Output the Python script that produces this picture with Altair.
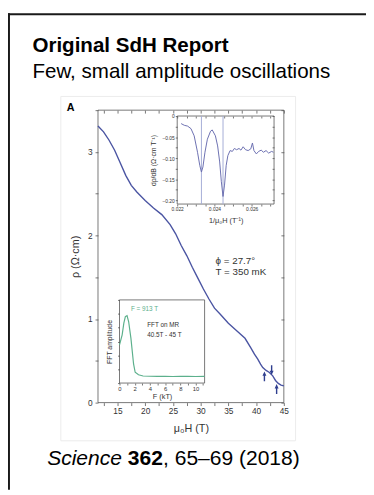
import altair as alt
import pandas as pd

# ---------------- data ----------------
# main panel: resistivity vs field
field_T = [11.5, 12.5, 13.5, 14.5, 15.5, 16.5, 17.5, 18.5, 20.0, 21.5, 23.0, 24.5,
           25.5, 26.5, 27.5, 28.5, 29.5, 30.5, 31.5, 32.5, 33.5, 35.0, 36.5, 38.0,
           39.0, 39.7, 40.3, 40.8, 41.2, 41.8, 42.4, 43.0, 43.5, 44.0, 44.5, 45.0]
rho = [3.31, 3.24, 3.14, 3.02, 2.87, 2.72, 2.60, 2.52, 2.42, 2.33, 2.25, 2.13,
       2.02, 1.88, 1.76, 1.62, 1.49, 1.36, 1.24, 1.13, 1.06, 0.95, 0.86, 0.77,
       0.66, 0.58, 0.52, 0.46, 0.42, 0.385, 0.36, 0.32, 0.265, 0.23, 0.21, 0.20]

arrow_T = [41.5, 42.8, 43.7]
arrow_rho = [0.315, 0.39, 0.163]
arrow_angle = [0, 180, 0]

annot_T = [32.7, 32.7]
annot_rho = [1.69, 1.56]
annot_text = ["ϕ = 27.7°", "T = 350 mK"]

# inset 1: derivative vs inverse field
inv_B = [0.02221, 0.02238, 0.02256, 0.02274, 0.02291, 0.02309, 0.02321, 0.02330,
         0.02338, 0.02349, 0.02362, 0.02379, 0.02388, 0.02405, 0.02417, 0.02428,
         0.02437, 0.02446, 0.02454, 0.02463, 0.02472, 0.02484, 0.02496, 0.02507,
         0.02519, 0.02532, 0.02542, 0.02554, 0.02567, 0.02581, 0.02595, 0.02604,
         0.02612, 0.02625, 0.02637, 0.02651, 0.02663, 0.02677, 0.02691, 0.02707, 0.02717]
drho_dB = [-0.018, -0.022, -0.024, -0.030, -0.047, -0.086, -0.117, -0.133,
           -0.121, -0.086, -0.055, -0.036, -0.033, -0.047, -0.071, -0.109,
           -0.156, -0.191, -0.164, -0.117, -0.094, -0.082, -0.084, -0.077,
           -0.080, -0.077, -0.081, -0.073, -0.080, -0.082, -0.078, -0.064,
           -0.082, -0.090, -0.084, -0.081, -0.086, -0.082, -0.088, -0.084, -0.086]
marker_inv_B = [0.0233, 0.02446]

# inset 2: FFT
fft_F = [0, 0.35, 0.57, 0.77, 0.99, 1.2, 1.5, 1.85, 2.06, 2.5, 3.1, 4, 5, 6, 7, 8, 9, 10, 11.2]
fft_amp = [0.46, 0.58, 0.72, 0.80, 0.81, 0.74, 0.54, 0.23, 0.13, 0.10, 0.085, 0.082,
           0.080, 0.081, 0.079, 0.080, 0.080, 0.079, 0.080]
fft_text_F = [1.5, 3.65, 3.65]
fft_text_amp = [0.894, 0.70, 0.58]
fft_text = ["F = 913 T", "FFT on MR", "40.5T - 45 T"]

# ---------------- styling ----------------
FONT = "Liberation Sans"
W, H = 366, 487
LBL = "#333333"
AXC = "#555555"
BLUE = "#4a54a2"
GREEN = "#5cb08c"


def lin(domain, rng):
    return alt.Scale(domain=domain, range=rng, nice=False, zero=False)


MX = lin([11.5, 45], [92, 282])
MY = lin([0, 3.5], [398, 99])
AX = lin([0.022, 0.0272], [173, 272])
AY = lin([-0.209, 0], [195, 105])
BX = lin([0, 11.2], [114, 201])
BY = lin([0, 1], [378, 293])


def ax(orient, offset, values, labels=True, expr=None, title=None, tick=3,
       lsize=8, lpad=2, tsize=10, tx=None, ty=None):
    kw = dict(orient=orient, offset=offset, values=values, grid=False, domain=False,
              ticks=True, tickSize=tick, tickColor=AXC, tickWidth=0.8,
              labels=labels, zindex=1)
    if labels:
        kw.update(labelFont=FONT, labelFontSize=lsize, labelColor=LBL,
                  labelPadding=lpad, labelFlush=False, labelOverlap=False)
        if expr:
            kw["labelExpr"] = expr
    if title:
        kw.update(title=title, titleFont=FONT, titleFontSize=tsize, titleColor=LBL,
                  titleFontWeight="normal", titleBaseline="middle")
        if tx is not None:
            kw["titleX"] = tx
        if ty is not None:
            kw["titleY"] = ty
    else:
        kw["title"] = None
    return alt.Axis(**kw)


def frame(xd, yd, xs, ys, xaxis, yaxis):
    df = pd.DataFrame({"x0": [xd[0]], "x1": [xd[1]], "y0": [yd[0]], "y1": [yd[1]]})
    return alt.Chart(df).mark_rect(fill="white", stroke=AXC, strokeWidth=0.8).encode(
        x=alt.X("x0:Q", scale=xs, axis=xaxis), x2="x1:Q",
        y=alt.Y("y0:Q", scale=ys, axis=yaxis), y2="y1:Q")


def ptext(text, x, y, size, weight="normal", style="normal", color="#000000"):
    return alt.Chart(alt.Data(values=[{}])).mark_text(
        text=text, font=FONT, fontSize=size, fontWeight=weight, fontStyle=style,
        align="left", baseline="alphabetic", color=color).encode(
        x=alt.value(x), y=alt.value(y))


one = alt.Data(values=[{}])

# slide border (left + top)
border_left = alt.Chart(one).mark_rule(color="#1a1a1a", strokeWidth=2).encode(
    x=alt.value(1), y=alt.value(0), y2=alt.value(H))
border_top = alt.Chart(one).mark_rule(color="#1a1a1a", strokeWidth=2).encode(
    x=alt.value(0), x2=alt.value(W), y=alt.value(1))
fig_bg = alt.Chart(one).mark_rect(fill="white", stroke="#ececec", strokeWidth=1).encode(
    x=alt.value(54), x2=alt.value(294), y=alt.value(85), y2=alt.value(437))

# ---- main panel ----
mx_ticks = [round(12.5 + 2.5 * i, 2) for i in range(14)]
my_ticks = [round(0.5 * i, 2) for i in range(8)]

main_frame = frame([11.5, 45], [0, 3.5], MX, MY,
                   ax("top", -102, mx_ticks, labels=False),
                   ax("right", -87, my_ticks, labels=False))

main_df = pd.DataFrame({"H": field_T, "rho": rho})
main_curve = alt.Chart(main_df).mark_line(color=BLUE, strokeWidth=1.4).encode(
    x=alt.X("H:Q", scale=MX,
            axis=ax("bottom", -89, mx_ticks,
                    expr="datum.value % 5 == 0 ? format(datum.value, 'd') : ''",
                    title="μ₀H (T)", lsize=8.5, lpad=1, tsize=11, ty=27)),
    y=alt.Y("rho:Q", scale=MY,
            axis=ax("left", -92, my_ticks,
                    expr="datum.value % 1 == 0 ? format(datum.value, 'd') : ''",
                    title="ρ (Ω·cm)", lsize=8.5, lpad=3, tsize=11, tx=-23)))

arrow_df = pd.DataFrame({"H": arrow_T, "rho": arrow_rho, "ang": arrow_angle})
arrows = alt.Chart(arrow_df).mark_point(shape="arrow", filled=True, color="#2f3f8f",
                                        size=100, opacity=1).encode(
    x=alt.X("H:Q", scale=MX, axis=None),
    y=alt.Y("rho:Q", scale=MY, axis=None),
    angle=alt.Angle("ang:Q", scale=None))

annot_df = pd.DataFrame({"H": annot_T, "rho": annot_rho, "t": annot_text})
annot = alt.Chart(annot_df).mark_text(align="left", baseline="middle", font=FONT,
                                      fontSize=10, color="#333333").encode(
    x=alt.X("H:Q", scale=MX, axis=None),
    y=alt.Y("rho:Q", scale=MY, axis=None),
    text="t:N")

# ---- inset 1 ----
ax_ticks = [round(0.022 + 0.0005 * i, 4) for i in range(11)]
ay_ticks = [round(-0.025 * i, 3) for i in range(9)]

in1_frame = frame([0.022, 0.0272], [-0.209, 0], AX, AY,
                  ax("top", -107, ax_ticks, labels=False, tick=2),
                  ax("right", -96, ay_ticks, labels=False, tick=2))

rules_df = pd.DataFrame({"x": marker_inv_B, "y0": [-0.209] * 2, "y1": [0.0] * 2})
in1_rules = alt.Chart(rules_df).mark_rule(color="#a4acd6", strokeWidth=1).encode(
    x=alt.X("x:Q", scale=AX, axis=None),
    y=alt.Y("y0:Q", scale=AY, axis=None), y2="y1:Q")

in1_df = pd.DataFrame({"b": inv_B, "d": drho_dB})
in1_curve = alt.Chart(in1_df).mark_line(color="#6a6fb0", strokeWidth=1).encode(
    x=alt.X("b:Q", scale=AX,
            axis=ax("bottom", -292, ax_ticks,
                    expr="abs(datum.value * 500 - round(datum.value * 500)) < 0.001 ? format(datum.value, '.3f') : ''",
                    title="1/μ₀H (T⁻¹)", tick=2, lsize=5, lpad=1, tsize=7.5, ty=17)),
    y=alt.Y("d:Q", scale=AY,
            axis=ax("left", -173, ay_ticks,
                    expr="abs(datum.value * 20 - round(datum.value * 20)) < 0.001 ? (datum.value == 0 ? '0' : format(datum.value, '.2f')) : ''",
                    title="dρ/dB (Ω·cm T⁻¹)", tick=2, lsize=5, lpad=1, tsize=7, tx=-24)))

# ---- inset 2 ----
bx_ticks = list(range(12))
by_ticks = [round(i / 6, 4) for i in range(7)]

in2_frame = frame([0, 11.2], [0, 1], BX, BY, None, None)

in2_df = pd.DataFrame({"F": fft_F, "A": fft_amp})
in2_curve = alt.Chart(in2_df).mark_line(color=GREEN, strokeWidth=1.2).encode(
    x=alt.X("F:Q", scale=BX,
            axis=ax("bottom", -109, bx_ticks, expr="datum.value % 2 == 0 ? format(datum.value, 'd') : ''",
                    title="F (kT)", tick=2, lsize=6, lpad=1, tsize=7.5, ty=14)),
    y=alt.Y("A:Q", scale=BY,
            axis=ax("left", -114, by_ticks, labels=False, title="FFT amplitude",
                    tick=2, tsize=7, tx=-10)))

in2_text_df = pd.DataFrame({"F": fft_text_F, "A": fft_text_amp, "t": fft_text,
                            "c": [GREEN, "#333333", "#333333"]})
in2_text = alt.Chart(in2_text_df).mark_text(align="left", baseline="middle", font=FONT,
                                            fontSize=6.5).encode(
    x=alt.X("F:Q", scale=BX, axis=None),
    y=alt.Y("A:Q", scale=BY, axis=None),
    text="t:N",
    color=alt.Color("c:N", scale=None))

# ---- slide texts ----
panel_A = ptext("A", 60, 100, 11, weight="bold")
title = ptext("Original SdH Report", 25, 40, 21, weight="bold")
subtitle = ptext("Few, small amplitude oscillations", 25, 66, 21)
cite1 = ptext("Science", 40, 462, 21.5, style="italic")
cite2 = ptext("362", 122.5, 462, 21.5, weight="bold")
cite3 = ptext(", 65–69 (2018)", 158.5, 462, 21.5)

chart = alt.layer(
    border_left, border_top, fig_bg,
    main_frame, main_curve, arrows, annot,
    in1_frame, in1_rules, in1_curve,
    in2_frame, in2_curve, in2_text,
    panel_A, title, subtitle, cite1, cite2, cite3,
).resolve_scale(x="independent", y="independent").resolve_axis(
    x="independent", y="independent"
).properties(
    width=W, height=H, autosize=alt.AutoSizeParams(type="none"), padding=0
).configure_view(stroke=None)

chart.save("out.html", embed_options={"renderer": "svg", "actions": False})
